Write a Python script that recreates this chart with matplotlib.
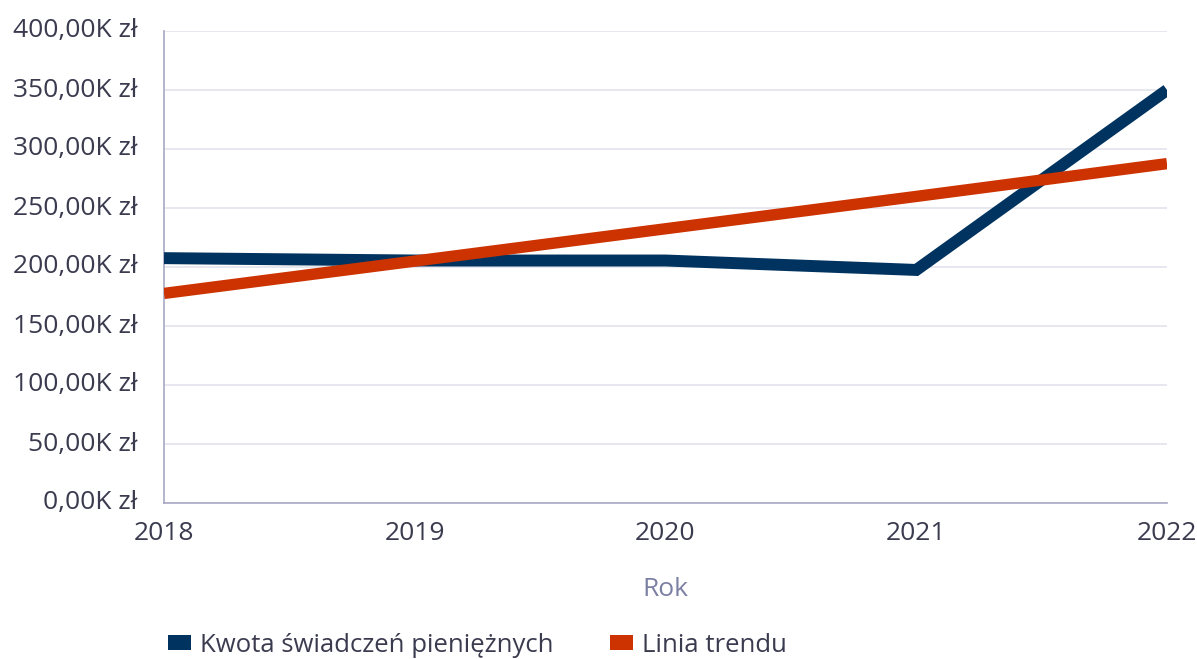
import matplotlib
matplotlib.use("Agg")
import matplotlib.pyplot as plt
from matplotlib.patches import Patch
from matplotlib.ticker import FuncFormatter

years = [2018, 2019, 2020, 2021, 2022]
kwota = [207.5, 205.5, 205.5, 197.5, 350.0]   # thousands zł
trend = [177.6, 205.0, 232.4, 259.8, 287.6]  # thousands zł
y_ticks = [0, 50, 100, 150, 200, 250, 300, 350, 400]
series_names = ["Kwota świadczeń pieniężnych", "Linia trendu"]

plt.rcParams['font.family'] = ['Open Sans', 'DejaVu Sans']
text_col = '#3b3b50'
blue = '#00335f'
orange = '#cc3300'
fs = 19

fig = plt.figure(figsize=(11.97, 6.59), dpi=100)
ax = fig.add_axes([164/1197, 1 - 503/659, (1167-164)/1197, (503-31)/659])

ax.plot(years, kwota, color=blue, lw=8.6, solid_joinstyle='miter', solid_capstyle='butt', zorder=3)
ax.plot(years, trend, color=orange, lw=8.2, solid_capstyle='butt', zorder=4)

ax.set_xlim(2018, 2022)
ax.set_ylim(0, 400)
ax.set_xticks(years)
ax.set_yticks(y_ticks)
ax.yaxis.set_major_formatter(FuncFormatter(lambda v, p: f"{v:.2f}".replace('.', ',') + "K zł"))
ax.grid(axis='y', color='#e3e3ec', lw=1.2, zorder=0)
ax.set_axisbelow(True)
for s in ['top', 'right']:
    ax.spines[s].set_visible(False)
for s in ['left', 'bottom']:
    ax.spines[s].set_color('#a8a8c4')
    ax.spines[s].set_linewidth(1.2)
ax.tick_params(axis='both', length=0, labelsize=fs, labelcolor=text_col)
ax.tick_params(axis='x', pad=13)
ax.tick_params(axis='y', pad=19)
for lbl in ax.get_yticklabels():
    lbl.set_verticalalignment('center')

ax.set_xlabel("Rok", fontsize=19, color='#7c80a3', labelpad=22)

handles = [Patch(facecolor=blue, edgecolor='none'), Patch(facecolor=orange, edgecolor='none')]
fig.legend(handles, series_names, loc='center left', bbox_to_anchor=(168/1197, 1 - 645/659),
           ncol=2, frameon=False, fontsize=18.5, labelcolor=text_col,
           borderaxespad=0, borderpad=0,
           handlelength=0.9, handleheight=0.5, handletextpad=0.35, columnspacing=2.2)

fig.savefig("out.png", dpi=100)
